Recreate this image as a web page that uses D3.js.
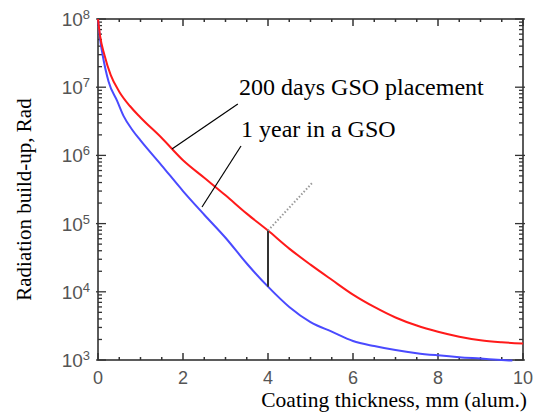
<!DOCTYPE html>
<html><head><meta charset="utf-8">
<script src="https://cdn.jsdelivr.net/npm/d3@7"></script>
<style>html,body{margin:0;padding:0;background:#fff;}
.serif{font-family:"Liberation Serif","Times New Roman",Times,"DejaVu Serif",serif;}
.sans{font-family:"Liberation Sans",Arial,Helvetica,sans-serif;}
</style>
</head><body>
<script>
// ---- data ----
const redX   = [0,0.05,0.15,0.3,0.5,0.75,1.0,1.5,2.0,2.5,3.0,3.5,4.0,4.5,5.0,5.5,6.0,6.5,7.0,7.5,8.0,8.5,9.0,9.5,10.0];
const redY   = [1e8,5.6e7,3.0e7,1.5e7,8.6e6,5.3e6,3.6e6,1.8e6,8.5e5,4.7e5,2.6e5,1.4e5,7.9e4,4.3e4,2.5e4,1.5e4,9.1e3,6.0e3,4.2e3,3.2e3,2.6e3,2.2e3,1.95e3,1.82e3,1.74e3];
const blueX  = [0,0.05,0.1,0.25,0.45,0.6,0.8,1.0,1.5,2.0,2.5,3.0,3.5,4.0,4.5,5.0,5.5,6.0,6.5,7.0,7.5,8.0,8.5,9.0,9.5,9.75];
const blueY  = [1e8,5.0e7,3.2e7,1.2e7,6.3e6,3.8e6,2.4e6,1.66e6,7.1e5,3.0e5,1.35e5,6.2e4,2.6e4,1.19e4,6.0e3,3.6e3,2.6e3,1.9e3,1.6e3,1.4e3,1.26e3,1.17e3,1.1e3,1.05e3,1.0e3,0.98e3];
const xTickLabels = [0,2,4,6,8,10];
const yTickExps   = [3,4,5,6,7,8];
const labelRed  = "200 days GSO placement";
const labelBlue = "1 year in a GSO";
const xTitle = "Coating thickness, mm (alum.)";
const yTitle = "Radiation build-up, Rad";
// annotation anchors (data coords)
const annRed  = {tx:3.32, ty:10**6.886, x1:3.29, y1:10**6.754, x2:1.74, y2:10**6.094};
const annBlue = {tx:3.365, ty:10**6.27, x1:3.365, y1:10**6.138, x2:2.447, y2:10**5.243};
const markX = 4;
const dottedEnd = {x:5.06, y:10**5.61};

// ---- layout ----
const W=534,H=412;
const L=98,R=523,T=19,B=360;
const svg=d3.select("body").append("svg").attr("width",W).attr("height",H);
const x=d3.scaleLinear().domain([0,10]).range([L,R]);
const y=d3.scaleLog().domain([1e3,1e8]).range([B,T]);

const axCol="#333";
const g=svg.append("g");
d3.range(0,10.01,0.5).forEach(v=>{
  const major = Math.abs(v%2)<1e-9;
  const len = major?7:3;
  g.append("line").attr("x1",x(v)).attr("x2",x(v)).attr("y1",B).attr("y2",B-len).attr("stroke",axCol).attr("stroke-width",1.5);
  g.append("line").attr("x1",x(v)).attr("x2",x(v)).attr("y1",T).attr("y2",T+len).attr("stroke",axCol).attr("stroke-width",1.5);
});
const yTicks=[];
for(let e=3;e<8;e++){for(let m=1;m<10;m++){yTicks.push({v:m*10**e,major:m===1});}}
yTicks.push({v:1e8,major:true});
yTicks.forEach(t=>{
  const len=t.major?8:4;
  g.append("line").attr("x1",L-(t.major?2:0)).attr("x2",L+len).attr("y1",y(t.v)).attr("y2",y(t.v)).attr("stroke",axCol).attr("stroke-width",1.3);
  g.append("line").attr("x1",R+(t.major?2:0)).attr("x2",R-len).attr("y1",y(t.v)).attr("y2",y(t.v)).attr("stroke",axCol).attr("stroke-width",1.3);
});
svg.append("rect").attr("x",L).attr("y",T).attr("width",R-L).attr("height",B-T).attr("fill","none").attr("stroke",axCol).attr("stroke-width",1.6);

// tick labels
svg.selectAll(".xl").data(xTickLabels).enter().append("text").attr("class","sans")
  .attr("x",d=>x(d)).attr("y",B+24).attr("text-anchor","middle")
  .attr("font-size",18).attr("fill","#555").text(d=>d);
yTickExps.forEach(e=>{
  const t=svg.append("text").attr("class","sans").attr("x",L-8).attr("y",y(10**e)+7).attr("text-anchor","end")
    .attr("font-size",19).attr("fill","#555");
  t.append("tspan").text("10");
  t.append("tspan").attr("dy",-7).attr("font-size",13).text(e);
});

// curves
const line=d3.line().x(d=>x(d[0])).y(d=>y(d[1])).curve(d3.curveMonotoneX);
const blueData=blueX.map((v,i)=>[v,blueY[i]]);
const redData=redX.map((v,i)=>[v,redY[i]]);
svg.append("path").datum(blueData).attr("d",line).attr("fill","none").attr("stroke","#4a4aff").attr("stroke-width",2);
svg.append("path").datum(redData).attr("d",line).attr("fill","none").attr("stroke","#ff1a1a").attr("stroke-width",2);

// marker at x=4
const rAt=redY[redX.indexOf(markX)], bAt=blueY[blueX.indexOf(markX)];
svg.append("line").attr("x1",x(markX)).attr("x2",x(markX)).attr("y1",y(rAt)).attr("y2",y(bAt)).attr("stroke","#333").attr("stroke-width",2);
svg.append("line").attr("x1",x(markX)).attr("x2",x(dottedEnd.x)).attr("y1",y(rAt)).attr("y2",y(dottedEnd.y))
  .attr("stroke","#999").attr("stroke-width",2).attr("stroke-dasharray","1.5,2");

// annotations
[[annRed,labelRed],[annBlue,labelBlue]].forEach(([a,txt])=>{
  svg.append("line").attr("x1",x(a.x1)).attr("y1",y(a.y1)).attr("x2",x(a.x2)).attr("y2",y(a.y2)).attr("stroke","#000").attr("stroke-width",1.2);
  svg.append("text").attr("class","serif").attr("x",x(a.tx)).attr("y",y(a.ty)).attr("font-size",24).attr("fill","#000").text(txt);
});

// axis titles
svg.append("text").attr("class","serif").attr("x",527).attr("y",407).attr("text-anchor","end").attr("font-size",21.5).attr("fill","#000").text(xTitle);
svg.append("text").attr("class","serif").attr("transform",`translate(31,${(T+B)/2+10}) rotate(-90)`).attr("text-anchor","middle").attr("font-size",21).attr("fill","#000").text(yTitle);
</script>
</body></html>
